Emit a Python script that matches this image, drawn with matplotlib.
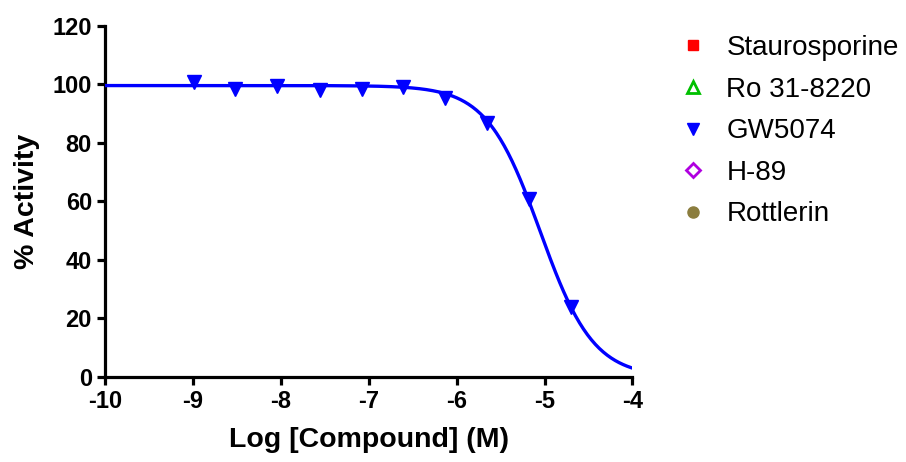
import numpy as np
import matplotlib.pyplot as plt

plt.rcParams['font.family'] = ['Liberation Sans', 'DejaVu Sans']
plt.rcParams['axes.unicode_minus'] = False

# GW5074 measured points (3-fold dilution from 20 uM)
log_conc = [-8.99, -8.52, -8.04, -7.56, -7.08, -6.61, -6.13, -5.65, -5.18, -4.70]
activity = [100.8, 98.5, 99.5, 98.0, 98.5, 99.0, 95.4, 86.8, 61.0, 24.0]

# fitted sigmoidal dose-response for the curve
fit_top = 99.6
fit_bottom = 0.0
fit_logic50 = -5.05
fit_hill = 1.43

legend_names = ['Staurosporine', 'Ro 31-8220', 'GW5074', 'H-89', 'Rottlerin']

fig = plt.figure(figsize=(9.06, 4.62), dpi=100)
ax = fig.add_axes([0.116, 0.184, 0.582, 0.76])

xc = np.linspace(-10, -4, 400)
yc = fit_bottom + (fit_top - fit_bottom) / (1 + 10 ** ((xc - fit_logic50) * fit_hill))
ax.plot(xc, yc, color='#0000ff', lw=2.4, zorder=3)
ax.plot(log_conc, activity, linestyle='None', marker='v', color='#0000ff',
        markersize=9.5, zorder=4)

# legend handles (only GW5074 has data on this plot)
h_stau, = ax.plot([], [], 's', color='#ff0000', markersize=7, linestyle='None')
h_ro, = ax.plot([], [], '^', markerfacecolor='none', markeredgecolor='#00c000',
                markeredgewidth=2, markersize=8, linestyle='None')
h_gw, = ax.plot([], [], 'v', color='#0000ff', markersize=8.5, linestyle='None')
h_h89, = ax.plot([], [], 'D', markerfacecolor='none', markeredgecolor='#b000e0',
                 markeredgewidth=2, markersize=7, linestyle='None')
h_rot, = ax.plot([], [], 'o', color='#8b7d3e', markersize=8, linestyle='None')
ax.legend([h_stau, h_ro, h_gw, h_h89, h_rot], legend_names, loc='upper left',
          bbox_to_anchor=(0.722, 0.978), bbox_transform=fig.transFigure,
          frameon=False, fontsize=20, handletextpad=0.7, labelspacing=0.56,
          handlelength=1.0)

ax.set_xlim(-10, -4)
ax.set_ylim(0, 120)
ax.set_xticks(range(-10, -3))
ax.set_yticks(range(0, 121, 20))
ax.spines['top'].set_visible(False)
ax.spines['right'].set_visible(False)
for s in ['left', 'bottom']:
    ax.spines[s].set_linewidth(2.3)
ax.tick_params(width=2.3, length=5.5, labelsize=17, pad=4)
for lab in ax.get_xticklabels() + ax.get_yticklabels():
    lab.set_fontweight('bold')
ax.set_xlabel('Log [Compound] (M)', fontsize=20.5, fontweight='bold', labelpad=10)
ax.set_ylabel('% Activity', fontsize=20.5, fontweight='bold', labelpad=9)

fig.savefig('out.png', dpi=100)
